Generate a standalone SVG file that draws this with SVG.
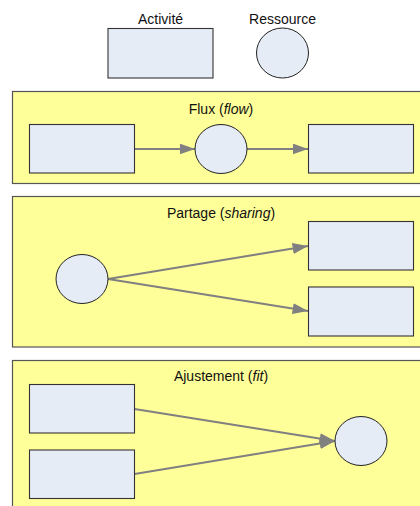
<svg xmlns="http://www.w3.org/2000/svg" width="420" height="506" viewBox="0 0 420 506">
<style>
.panel{fill:#FFFF99;stroke:#555;stroke-width:1.2}
.act{fill:#E6ECF6;stroke:#333;stroke-width:1.1}
.res{fill:#E6ECF6;stroke:#222;stroke-width:1}
.lbl{font-family:"Liberation Sans",Arial,sans-serif;font-size:14px;fill:#111;text-anchor:middle}
.conn{stroke:#808080;stroke-width:2.2;fill:none;marker-end:url(#ah)}
</style>
<defs>
<marker id="ah" markerWidth="7" markerHeight="5" refX="7" refY="2.5" orient="auto" markerUnits="strokeWidth">
<path d="M0,0 L7,2.5 L0,5 Z" fill="#808080"/>
</marker>
</defs>
<rect width="420" height="506" fill="#fff"/>
<g id="legend">
<g id="legend-activite">
<text class="lbl" x="160.5" y="24">Activité</text>
<rect class="act" x="108" y="28.5" width="105" height="49.5"/>
</g>
<g id="legend-ressource">
<text class="lbl" x="282.5" y="24">Ressource</text>
<ellipse class="res" cx="282.5" cy="53" rx="26" ry="25"/>
</g>
</g>
<g id="panel-flux">
<rect class="panel" x="12.5" y="91.5" width="420" height="92"/>
<text class="lbl" x="221" y="114">Flux (<tspan font-style="italic">flow</tspan>)</text>
</g>
<g id="panel-partage">
<rect class="panel" x="12.5" y="196.5" width="420" height="150.5"/>
<text class="lbl" x="221" y="218">Partage (<tspan font-style="italic">sharing</tspan>)</text>
</g>
<g id="panel-ajustement">
<rect class="panel" x="12.5" y="360.5" width="420" height="160"/>
<text class="lbl" x="221" y="381">Ajustement (<tspan font-style="italic">fit</tspan>)</text>
</g>
<g id="connectors">
<line class="conn" x1="134.5" y1="149" x2="195" y2="149"/>
<line class="conn" x1="247" y1="149" x2="308" y2="149"/>
<line class="conn" x1="108" y1="279" x2="308" y2="246"/>
<line class="conn" x1="108" y1="279" x2="308" y2="311"/>
<line class="conn" x1="134.5" y1="409" x2="335" y2="441"/>
<line class="conn" x1="134.5" y1="474" x2="335" y2="441"/>
</g>
<g id="flux-a1"><rect class="act" x="29.5" y="124.5" width="105" height="48.5"/></g>
<g id="flux-r"><ellipse class="res" cx="221" cy="149" rx="26" ry="24.5"/></g>
<g id="flux-a2"><rect class="act" x="308.5" y="124.5" width="105" height="48.5"/></g>
<g id="partage-r"><ellipse class="res" cx="82" cy="279" rx="26" ry="24.5"/></g>
<g id="partage-a1"><rect class="act" x="308.5" y="221.5" width="105" height="48.5"/></g>
<g id="partage-a2"><rect class="act" x="308.5" y="287" width="105" height="49"/></g>
<g id="ajust-a1"><rect class="act" x="29.5" y="384.5" width="105" height="48.5"/></g>
<g id="ajust-a2"><rect class="act" x="29.5" y="450" width="105" height="48.5"/></g>
<g id="ajust-r"><ellipse class="res" cx="361" cy="441" rx="26" ry="24.5"/></g>
</svg>
